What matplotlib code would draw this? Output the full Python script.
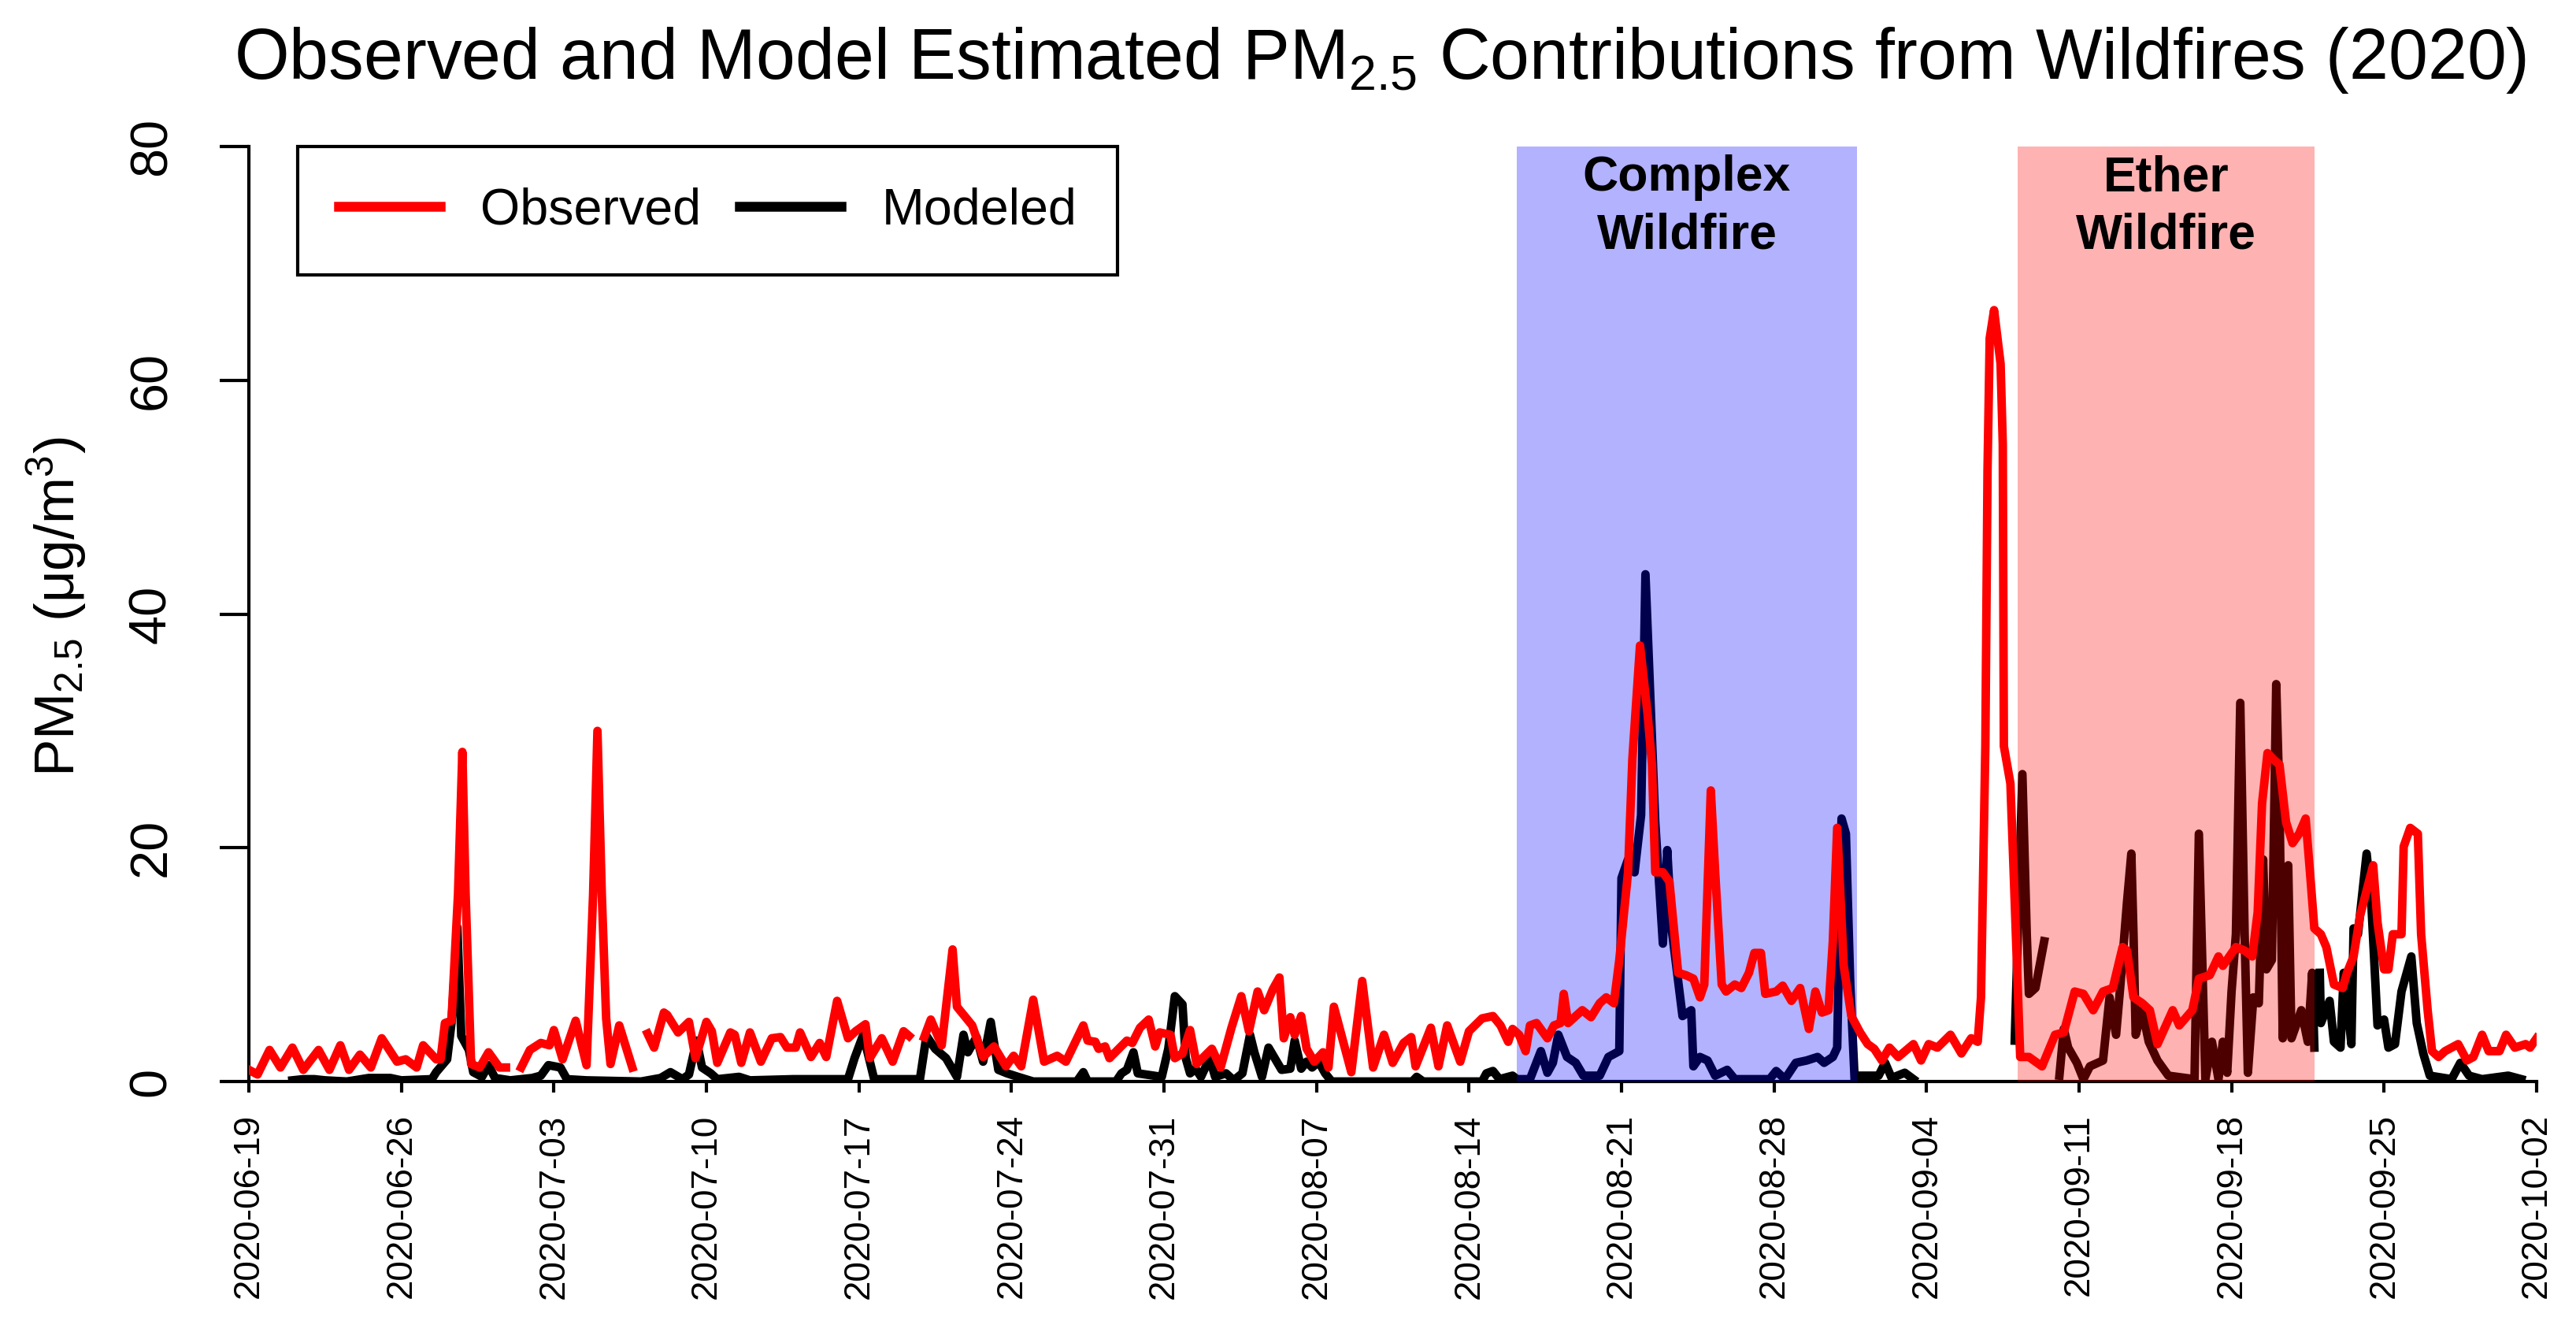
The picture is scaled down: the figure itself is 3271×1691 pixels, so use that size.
import numpy as np
import matplotlib
matplotlib.use('Agg')
import matplotlib.pyplot as plt
import matplotlib.dates as mdates
from matplotlib.lines import Line2D

plt.rcParams['font.family'] = ['Liberation Sans', 'DejaVu Sans']
plt.rcParams['mathtext.fontset'] = 'custom'
plt.rcParams['mathtext.rm'] = 'Liberation Sans'
plt.rcParams['mathtext.it'] = 'Liberation Sans:italic'
plt.rcParams['mathtext.bf'] = 'Liberation Sans:bold'

start_date = '2020-06-19'
n_days = 105
nan = np.nan

# days after 2020-06-19 00:00 (nan value = missing data)
obs_day = [0.0, 0.4, 0.95, 1.45, 2.0, 2.5, 3.2, 3.7, 4.2, 4.6, 5.1, 5.6, 6.1, 6.8, 7.2, 7.7,
           8.0, 8.6, 8.8, 9.0, 9.3, 9.6, 9.8, 9.95, 10.2, 10.6, 11.0, 11.5, 11.8, 12.1,
           12.5, 12.9, 13.4, 13.8, 14.0, 14.4, 15.0, 15.5, 15.8, 16.0, 16.2, 16.4, 16.6, 17.0,
           17.6, 17.9, 18.3, 18.6, 19.05, 19.2, 19.7, 20.2, 20.5, 21.0, 21.25, 21.5, 22.1, 22.3,
           22.6, 23.0, 23.5, 24.0, 24.4, 24.7, 25.1, 25.3, 25.8, 26.2, 26.5, 27.0, 27.5, 27.85,
           28.3, 28.5, 29.05, 29.55, 30.05, 30.3, 30.6, 31.0, 31.3, 31.8, 32.3, 32.5, 33.2, 33.7,
           34.2, 34.75, 35.1, 35.45, 36.0, 36.5, 37.1, 37.5, 38.3, 38.5, 38.85, 39.0, 39.3, 39.5,
           40.3, 40.55, 40.9, 41.3, 41.6, 41.8, 42.3, 42.5, 42.85, 43.2, 43.5, 44.2, 44.6, 45.1,
           45.55, 45.9, 46.3, 46.6, 47.0, 47.3, 47.5, 47.8, 48.0, 48.3, 48.55, 48.9, 49.3, 49.55,
           49.8, 50.6, 51.1, 51.6, 52.1, 52.5, 53.0, 53.35, 53.55, 54.25, 54.6, 55.0, 55.6, 56.0,
           56.6, 57.1, 57.45, 57.8, 58.0, 58.3, 58.6, 58.8, 59.1, 59.6, 59.9, 60.2, 60.35, 60.55,
           60.9, 61.2, 61.6, 62.0, 62.3, 62.65, 62.9, 63.3, 63.5, 63.85, 64.2, 64.4, 64.55, 64.9,
           65.2, 65.6, 65.95, 66.3, 66.6, 66.8, 67.1, 67.3, 67.6, 67.8, 68.2, 68.5, 68.85, 69.1,
           69.4, 69.6, 70.1, 70.4, 70.8, 71.2, 71.6, 71.9, 72.2, 72.5, 72.7, 72.9, 73.2, 73.55,
           73.95, 74.3, 74.6, 74.95, 75.3, 75.7, 76.4, 76.75, 77.1, 77.5, 78.1, 78.6, 79.05, 79.35,
           79.5, 79.7, 79.8, 79.9, 80.1, 80.4, 80.5, 80.55, 80.85, 81.0, 81.15, 81.3, 81.7, 82.3,
           82.9, 83.3, 83.8, 84.2, 84.65, 85.1, 85.55, 86.0, 86.2, 86.5, 86.9, 87.25, 87.6, 88.3,
           88.6, 89.2, 89.5, 90.0, 90.4, 90.6, 91.2, 91.6, 91.95, 92.2, 92.4, 92.65, 92.9, 93.2,
           93.5, 93.8, 94.1, 94.4, 94.6, 94.8, 95.1, 95.35, 95.7, 96.1, 96.3, 96.6, 96.9, 97.5,
           97.7, 98.0, 98.2, 98.4, 98.8, 98.9, 99.2, 99.55, 99.7, 100.0, 100.2, 100.5, 100.8, 101.4,
           101.8, 102.1, 102.5, 102.8, 103.3, 103.6, 104.0, 104.5, 104.7, 105.0]
obs_val = [1.0, 0.6, 2.7, 1.2, 2.9, 1.0, 2.7, 1.0, 3.1, 1.0, 2.3, 1.2, 3.7, 1.7, 1.9, 1.2,
           3.1, 1.9, 1.9, 5.0, 5.2, 16.0, 28.2, 16.0, 1.5, 1.2, 2.5, 1.2, 1.2, nan,
           1.2, 2.7, 3.3, 3.1, 4.4, 1.9, 5.2, 1.4, 16.0, 30.0, 16.0, 5.4, 1.5, 4.8,
           1.2, nan, 4.1, 2.9, 5.9, 5.7, 4.2, 5.1, 2.0, 5.1, 4.3, 1.6, 4.2, 4.0,
           1.6, 4.2, 1.7, 3.7, 3.8, 2.9, 2.9, 4.2, 2.1, 3.3, 2.1, 6.9, 3.7, 4.3,
           4.9, 2.0, 3.7, 1.7, 4.3, 3.9, nan, 3.8, 5.3, 3.1, 11.3, 6.4, 4.8, 2.1,
           3.0, 1.3, 2.2, 1.3, 7.0, 1.7, 2.2, 1.7, 4.8, 3.5, 3.4, 2.8, 3.0, 2.0,
           3.5, 3.3, 4.6, 5.3, 3.0, 4.2, 4.0, 2.0, 2.4, 4.4, 1.5, 2.8, 1.2, 4.6,
           7.3, 4.3, 7.7, 6.1, 7.9, 8.9, 3.7, 5.5, 4.0, 5.6, 2.8, 1.7, 2.5, 1.2,
           6.4, 0.8, 8.6, 1.2, 4.0, 1.6, 3.3, 3.8, 1.3, 4.6, 1.3, 4.8, 1.7, 4.3,
           5.4, 5.6, 4.8, 3.4, 4.5, 4.0, 2.6, 4.8, 5.0, 3.7, 4.8, 5.0, 7.5, 5.0,
           5.6, 6.1, 5.5, 6.7, 7.2, 6.7, 10.4, 17.9, 27.6, 37.3, 31.4, 27.1, 17.9, 17.9,
           17.1, 9.3, 9.1, 8.8, 7.2, 8.3, 24.9, 17.9, 8.3, 7.7, 8.3, 8.0, 9.3, 11.0,
           11.0, 7.5, 7.7, 8.2, 6.9, 8.0, 4.5, 7.7, 5.9, 6.1, 12.0, 21.7, 9.9, 5.6,
           4.2, 3.2, 2.8, 1.8, 2.9, 2.1, 3.2, 1.8, 3.2, 2.9, 4.0, 2.4, 3.7, 3.4,
           7.2, 28.7, 52.3, 63.6, 66.0, 61.4, 54.5, 28.7, 25.5, 17.9, 9.9, 2.1, 2.1, 1.3,
           4.0, 4.2, 7.7, 7.5, 6.1, 7.7, 8.0, 11.5, 11.2, 7.2, 6.7, 6.1, 3.2, 6.1,
           4.8, 6.1, 8.8, 9.1, 10.7, 9.9, 11.5, 11.2, 10.7, 14.5, 23.8, 28.1, 27.6, 27.1,
           22.2, 20.4, 21.2, 22.5, 17.9, 13.1, 12.6, 11.5, 8.3, 8.0, 9.3, 10.7, 14.2, 18.5,
           13.6, 9.6, 9.6, 12.6, 12.6, 20.1, 21.7, 21.2, 12.6, 6.1, 2.6, 2.1, 2.6, 3.2,
           1.8, 2.1, 4.0, 2.6, 2.6, 4.0, 2.9, 3.2, 2.9, 3.7]

mod_day = [2.0, 2.5, 3.0, 3.5, 4.5, 5.5, 6.5, 7.0, 8.4, 8.6, 9.1, 9.3, 9.57, 9.75, 10.1, 10.3,
           10.7, 11.0, 11.3, 12.0, 13.0, 13.4, 13.75, 14.3, 14.6, 15.5, 18.0, 18.9, 19.35, 19.9,
           20.2, 20.55, 20.8, 21.2, 21.5, 22.5, 23.0, 25.0, 26.0, 27.5, 27.8, 28.2, 28.7, 29.5,
           30.8, 31.1, 31.5, 32.0, 32.5, 32.8, 33.0, 33.4, 33.7, 34.05, 34.4, 34.8, 35.3, 36.0,
           38.0, 38.3, 38.5, 39.8, 40.05, 40.3, 40.6, 40.8, 41.9, 42.2, 42.5, 42.85, 43.0, 43.2,
           43.45, 43.7, 44.1, 44.35, 44.85, 45.2, 45.6, 45.95, 46.15, 46.5, 46.8, 47.4, 47.8, 48.0,
           48.3, 48.55, 48.8, 49.1, 49.4, 49.7, 53.4, 53.6, 53.9, 56.6, 56.8, 57.1, 57.4, 58.0,
           58.2, 58.8, 59.3, 59.6, 59.85, 60.1, 60.5, 60.9, 61.25, 62.0, 62.4, 62.9, 63.0, 63.3,
           63.6, 63.9, 64.1, 64.3, 64.55, 64.9, 65.1, 65.3, 65.8, 66.2, 66.3, 66.6, 66.95, 67.3,
           67.85, 68.2, 69.8, 70.1, 70.5, 71.0, 71.5, 72.0, 72.3, 72.7, 72.9, 73.1, 73.3, 73.5,
           73.7, 73.85, 74.05, 74.8, 75.1, 75.4, 76.0, 76.4, 78.0, 81.05, 81.4, 81.6, 81.7, 82.0,
           82.4, 82.7, 83.1, 83.3, 83.5, 83.9, 84.2, 84.5, 85.1, 85.4, 85.7, 85.9, 86.2, 86.4,
           86.5, 86.6, 86.9, 87.2, 87.6, 88.1, 89.3, 89.5, 89.8, 90.1, 90.4, 90.6, 90.8, 91.0,
           91.2, 91.4, 91.6, 91.75, 92.0, 92.25, 92.45, 92.6, 92.85, 93.05, 93.2, 93.35, 93.6, 93.75,
           94.0, 94.2, 94.5, 94.7, 94.8, 94.9, 95.05, 95.1, 95.5, 95.7, 96.0, 96.15, 96.3, 96.5,
           96.6, 96.8, 97.2, 97.4, 97.7, 98.0, 98.2, 98.5, 98.8, 99.25, 99.5, 99.8, 100.1, 101.1,
           101.5, 101.9, 102.5, 103.7, 104.3]
mod_val = [0.1, 0.2, 0.2, 0.1, 0.0, 0.3, 0.3, 0.1, 0.2, 0.8, 1.9, 5.0, 13.2, 3.9, 2.7, 0.8,
           0.4, 1.4, 0.3, 0.1, 0.3, 0.5, 1.4, 1.2, 0.2, 0.1, 0.0, 0.3, 0.8, 0.2,
           0.6, 3.5, 1.2, 0.7, 0.2, 0.4, 0.1, 0.2, 0.2, 0.2, 2.0, 4.0, 0.2, 0.2,
           0.2, 3.9, 2.8, 2.0, 0.4, 4.0, 2.5, 3.8, 1.7, 5.1, 1.0, 0.7, 0.4, 0.0,
           0.0, 0.8, 0.0, 0.0, 0.7, 1.0, 2.5, 0.7, 0.4, 2.8, 7.3, 6.6, 2.0, 0.7,
           1.1, 0.4, 2.0, 0.4, 0.7, 0.1, 0.7, 4.0, 2.5, 0.4, 2.9, 1.0, 1.1, 3.5,
           1.1, 1.7, 1.2, 1.7, 0.7, 0.0, 0.0, 0.4, 0.0, 0.0, 0.7, 0.9, 0.2, 0.5,
           0.2, 0.2, 2.6, 0.75, 1.6, 4.0, 2.1, 1.6, 0.5, 0.5, 2.1, 2.6, 17.4, 19.0,
           17.9, 22.8, 43.4, 34.0, 22.2, 11.8, 19.8, 13.1, 5.6, 6.1, 1.3, 2.1, 1.8, 0.5,
           1.0, 0.2, 0.2, 0.9, 0.2, 1.6, 1.8, 2.1, 1.6, 2.1, 2.9, 22.5, 21.2, 8.3,
           0.2, nan, 0.5, 0.5, 1.6, 0.3, 0.75, 0.2, nan, 3.5, 26.3, 12.6, 7.5, 8.0,
           12.0, nan, 0.5, 4.5, 2.9, 1.6, 0.2, 1.3, 1.8, 7.2, 4.0, 8.3, 15.3, 19.5,
           12.6, 4.0, 6.1, 3.4, 1.8, 0.5, 0.2, 21.2, 0.2, 3.4, 0.2, 3.4, 0.75, 7.7,
           12.6, 32.4, 12.6, 0.75, 7.2, 6.7, 19.0, 9.6, 10.4, 34.0, 24.0, 3.7, 18.5, 3.7,
           5.0, 6.1, 3.4, 9.3, 2.9, nan, 9.3, 5.0, 6.9, 3.4, 2.9, 9.3, 6.9, 3.2,
           13.1, 12.6, 19.5, 15.8, 4.8, 5.3, 2.9, 3.2, 7.7, 10.7, 5.0, 2.4, 0.5, 0.2,
           1.6, 0.5, 0.2, 0.5, 0.2]

# wildfire periods (days after start)
complex_fire = [58.2, 73.8]
ether_fire = [81.2, 94.8]
fire_labels = ['Complex\nWildfire', 'Ether\nWildfire']

t0 = mdates.date2num(np.datetime64(start_date))
obs_t = t0 + np.array(obs_day)
mod_t = t0 + np.array(mod_day)

fig = plt.figure(figsize=(3271 / 300, 1691 / 300), dpi=300)
ax = fig.add_axes([0.0966, 0.18805, 0.8881, 0.70196])

lw = 2.6
ax.plot(mod_t, mod_val, color='black', lw=lw, zorder=2, solid_joinstyle='round')
for period, col, lab in zip([complex_fire, ether_fire], ['blue', 'red'], fire_labels):
    ax.axvspan(t0 + period[0], t0 + period[1], color=col, alpha=0.3, lw=0, zorder=3)
    ax.text(t0 + (period[0] + period[1]) / 2, 79.3, lab, ha='center', va='top',
            fontsize=15, fontweight='bold', linespacing=1.3, zorder=5)
ax.plot(obs_t, obs_val, color='red', lw=lw, zorder=4, solid_joinstyle='round')

ax.set_xlim(t0, t0 + n_days)
ax.set_ylim(0, 80)
ax.set_xticks(t0 + np.arange(0, n_days + 1, 7))
ax.xaxis.set_major_formatter(mdates.DateFormatter('%Y-%m-%d'))
ax.set_yticks([0, 20, 40, 60, 80])

for s in ['top', 'right']:
    ax.spines[s].set_visible(False)
for s in ['left', 'bottom']:
    ax.spines[s].set_linewidth(1.0)

ax.tick_params(axis='x', length=3.4, width=1.0, labelsize=11, pad=6.5, labelrotation=90)
ax.tick_params(axis='y', length=9, width=1.0, labelsize=16, pad=13)
plt.setp(ax.get_yticklabels(), rotation=90, va='center')

handles = [Line2D([], [], color='red', lw=3), Line2D([], [], color='black', lw=3)]
leg = ax.legend(handles, ['Observed', 'Modeled'], loc='upper left', bbox_to_anchor=(62 / 2905, 1.0),
                ncol=2, fontsize=15.5, frameon=True, fancybox=False, edgecolor='black',
                framealpha=1, borderpad=0.8, handlelength=2.0, handletextpad=0.8,
                columnspacing=0.75, borderaxespad=0)
leg.get_frame().set_linewidth(1.0)

fig.text(1753 / 3271, 1 - 100 / 1691,
         r'Observed and Model Estimated PM$_{\mathregular{2.5}}$ Contributions from Wildfires (2020)',
         ha='center', va='baseline', fontsize=21.5)
fig.text(72 / 3271, 1 - 770 / 1691, r'PM$_{\mathregular{2.5}}$ (μg/m$^{\mathregular{3}}$)',
         rotation=90, ha='center', va='center', fontsize=17)

fig.savefig('out.png', dpi=300)
